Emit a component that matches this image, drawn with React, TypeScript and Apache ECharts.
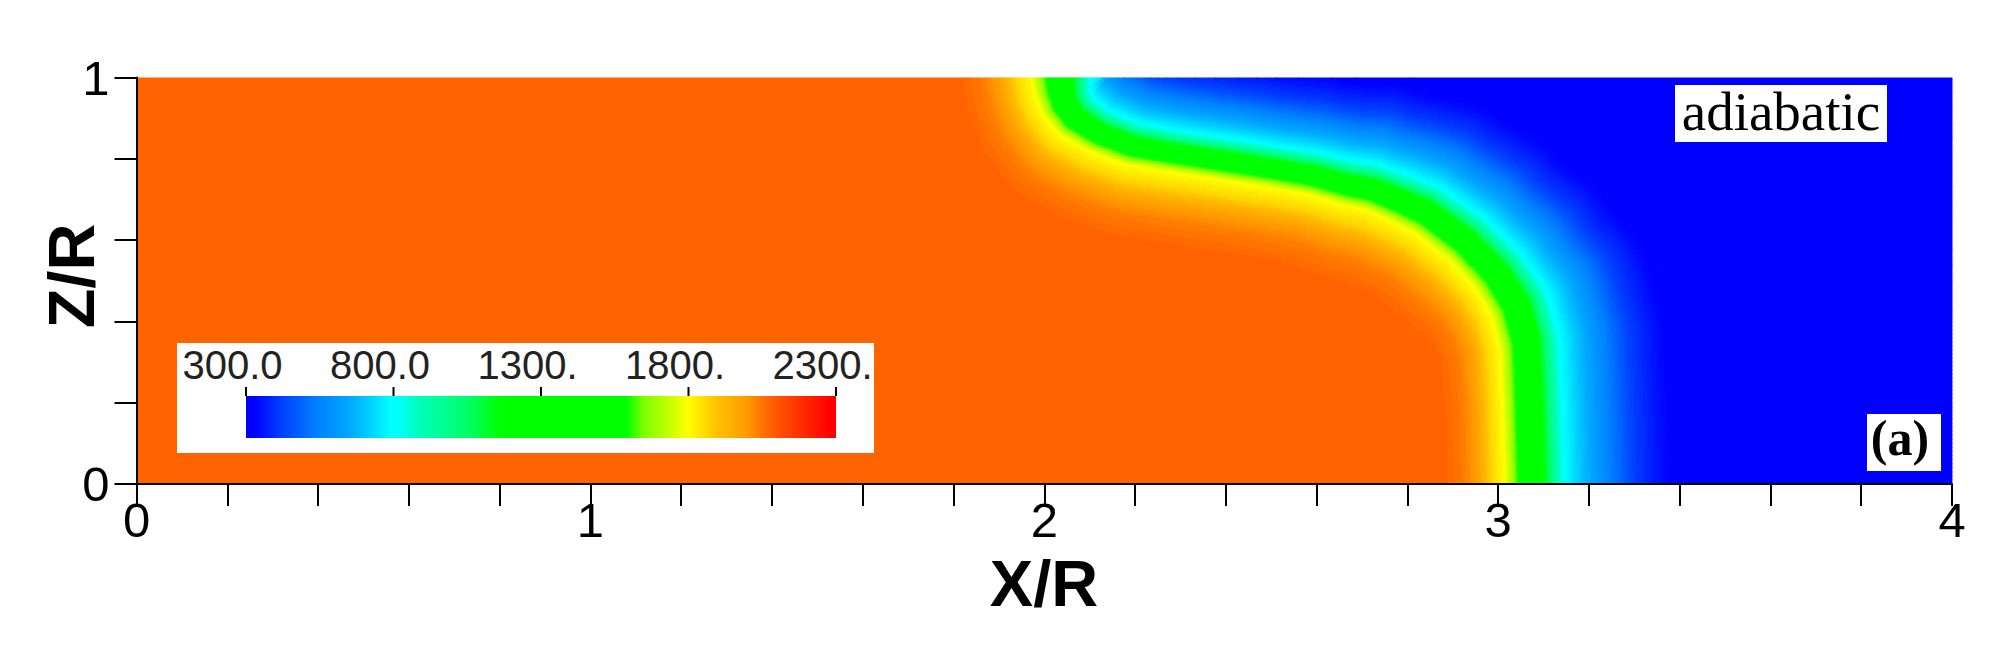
import React, { useEffect, useRef } from 'react';
import * as echarts from 'echarts';

// ---- axis tick labels ----
const xTickLabels = ['0', '1', '2', '3', '4'];
const zTickLabels = ['0', '1'];

// ---- flame front (T = 1800 contour) ----
const frontX = [1.972, 1.98, 1.998, 2.035, 2.101, 2.182, 2.27, 2.344, 2.416, 2.504, 2.586, 2.659, 2.711, 2.76, 2.815, 2.894, 2.953, 2.986, 3.004, 3.01, 3.015];
const frontZ = [1.0, 0.958, 0.909, 0.86, 0.819, 0.786, 0.77, 0.757, 0.745, 0.729, 0.712, 0.688, 0.675, 0.65, 0.62, 0.552, 0.478, 0.413, 0.339, 0.2, 0.0];
// relative thickness of the hot-side and cold-side transition along the front
const frontWHot = [1.2, 1.2, 1.2, 1.25, 1.25, 1.25, 1.25, 1.25, 1.25, 1.25, 1.25, 1.3, 1.3, 1.3, 1.3, 1.3, 1.2, 1.15, 1.05, 1.0, 1.0];
const frontWCold = [1.08, 1.0, 0.9, 0.82, 0.75, 0.72, 0.7, 0.7, 0.7, 0.7, 0.72, 0.75, 0.78, 0.82, 0.86, 0.9, 0.95, 1.0, 1.0, 1.0, 1.0];

// ---- temperature across the front (distance in X/R units, + = cold side) ----
const profileD = [-0.125, -0.088, -0.057, -0.029, 0, 0.015, 0.031, 0.088, 0.104, 0.132, 0.17, 0.214, 0.286, 0.361, 0.397];
const profileT = [2070, 2040, 1980, 1870, 1800, 1710, 1590, 1165, 1000, 800, 700, 590, 420, 330, 300];

// ---- colour map (legend) ----
const cmapT = [300, 330, 420, 540, 650, 720, 790, 810, 880, 970, 1060, 1165, 1590, 1650, 1710, 1800, 1900, 2000, 2070, 2170, 2280, 2300];
const cmapColor = ['#0000ff', '#0000ff', '#0040ff', '#0080ff', '#00a8ff', '#00d0ff', '#00ffff', '#00ffff', '#00ffc0', '#00ff90', '#00ff60', '#00ff00', '#00ff00', '#80ff00', '#b0ff00', '#ffff00', '#ffc000', '#ff9900', '#ff6600', '#ff3300', '#ff0000', '#ff0000'];
const barTicks = [300, 800, 1300, 1800, 2300];
const barLabels = ['300.0', '800.0', '1300.', '1800.', '2300.'];

const T_MIN = 300;
const T_MAX = 2300;

function interp(xs: number[], ys: number[], v: number): number {
  if (v <= xs[0]) return ys[0];
  const n = xs.length;
  if (v >= xs[n - 1]) return ys[n - 1];
  for (let i = 0; i < n - 1; i++) {
    if (v >= xs[i] && v <= xs[i + 1]) {
      const t = (v - xs[i]) / (xs[i + 1] - xs[i]);
      return ys[i] + t * (ys[i + 1] - ys[i]);
    }
  }
  return ys[n - 1];
}

function hexToRgb(h: string) {
  return [parseInt(h.slice(1, 3), 16), parseInt(h.slice(3, 5), 16), parseInt(h.slice(5, 7), 16)];
}
function rgbToHex(c: number[]) {
  return '#' + c.map((v) => Math.max(0, Math.min(255, Math.round(v))).toString(16).padStart(2, '0')).join('');
}
function cmapAt(T: number): string {
  const rgb = cmapColor.map(hexToRgb);
  const ch = [0, 1, 2].map((k) => interp(cmapT, rgb.map((c) => c[k]), T));
  return rgbToHex(ch);
}

const PLOT_ASPECT = 406.5 / 454; // pixel height of one Z/R unit over pixel width of one X/R unit
const frontZRev = frontZ.slice().reverse();
const frontXRev = frontX.slice().reverse();

function fieldT(x: number, z: number): number {
  const Y = z * PLOT_ASPECT;
  let best = Infinity;
  let bi = 0;
  let bt = 0;
  for (let i = 0; i < frontX.length - 1; i++) {
    const ax = frontX[i], ay = frontZ[i] * PLOT_ASPECT;
    const bx = frontX[i + 1], by = frontZ[i + 1] * PLOT_ASPECT;
    const dx = bx - ax, dy = by - ay;
    const len2 = dx * dx + dy * dy;
    let t = ((x - ax) * dx + (Y - ay) * dy) / len2;
    t = Math.max(0, Math.min(1, t));
    const px = ax + t * dx, py = ay + t * dy;
    const d2 = (x - px) * (x - px) + (Y - py) * (Y - py);
    if (d2 < best) { best = d2; bi = i; bt = t; }
  }
  const xf = interp(frontZRev, frontXRev, z);
  const hot = x < xf;
  const w = hot
    ? frontWHot[bi] + bt * (frontWHot[bi + 1] - frontWHot[bi])
    : frontWCold[bi] + bt * (frontWCold[bi + 1] - frontWCold[bi]);
  const d = (Math.sqrt(best) * (hot ? -1 : 1)) / w;
  return interp(profileD, profileT, d);
}

// ---- build field cells (runs of equal quantised temperature) ----
function buildCells() {
  const rows: number[] = [];
  for (let i = 0; i <= 40; i++) rows.push(i * 0.01);
  for (let i = 1; i <= 120; i++) rows.push(0.4 + i * 0.005);
  const NX = 1000;
  const DX = 4 / NX;
  const Q = 12;
  const cells: number[][] = [];
  for (let r = 0; r < rows.length - 1; r++) {
    const z0 = rows[r], z1 = rows[r + 1];
    const zc = (z0 + z1) / 2;
    let runStart = 0;
    let runT = NaN;
    for (let i = 0; i < NX; i++) {
      const xc = (i + 0.5) * DX;
      const T = Math.round(fieldT(xc, zc) / Q) * Q;
      if (isNaN(runT)) { runT = T; runStart = 0; }
      else if (T !== runT) {
        cells.push([runStart, i * DX, z0, z1, runT]);
        runStart = i * DX;
        runT = T;
      }
    }
    cells.push([runStart, 4, z0, z1, runT]);
  }
  return cells;
}

export default function App() {
  const ref = useRef<HTMLDivElement>(null);

  useEffect(() => {
    if (!ref.current) return;
    const chart = echarts.init(ref.current, undefined, { renderer: 'svg' });
    const cells = buildCells();

    const vmColors: string[] = [];
    for (let k = 0; k <= 80; k++) vmColors.push(cmapAt(T_MIN + (k * (T_MAX - T_MIN)) / 80));

    const gridLeft = 136.5;
    const gridTop = 77.5;
    const gridWidth = 1815.5;
    const gridHeight = 406.5;

    // colour bar geometry
    const boxX = 177, boxY = 343, boxW = 697, boxH = 110;
    const barX = 246, barY = 396, barW = 590, barH = 42;
    const tickX = (T: number) => barX + ((T - T_MIN) / (T_MAX - T_MIN)) * barW;

    const graphics: any[] = [
      { type: 'rect', z: 100, shape: { x: boxX, y: boxY, width: boxW, height: boxH }, style: { fill: '#ffffff' } },
      {
        type: 'rect', z: 101, shape: { x: barX, y: barY, width: barW, height: barH },
        style: {
          fill: {
            type: 'linear', x: 0, y: 0, x2: 1, y2: 0,
            colorStops: cmapT.map((T, i) => ({ offset: (T - T_MIN) / (T_MAX - T_MIN), color: cmapColor[i] })),
          },
        },
      },
      ...barTicks.map((T) => ({
        type: 'line', z: 101,
        shape: { x1: tickX(T), y1: 387, x2: tickX(T), y2: barY },
        style: { stroke: '#000', lineWidth: 2 },
      })),
      ...barTicks.map((T, i) => ({
        type: 'text', z: 101, x: tickX(T) - 13.5, y: 364.5,
        style: { text: barLabels[i], fontSize: 40, lineHeight: 36, fontFamily: 'Liberation Sans', fill: '#222', align: 'center', verticalAlign: 'middle' },
      })),
      { type: 'rect', z: 100, shape: { x: 1675, y: 85, width: 212, height: 57 }, style: { fill: '#ffffff' } },
      {
        type: 'text', z: 101, x: 1781, y: 111.5,
        style: { text: 'adiabatic', fontSize: 55, lineHeight: 50, fontFamily: 'Liberation Serif', fill: '#000', align: 'center', verticalAlign: 'middle' },
      },
      { type: 'rect', z: 100, shape: { x: 1867, y: 414, width: 74, height: 57 }, style: { fill: '#ffffff' } },
      {
        type: 'text', z: 101, x: 1900, y: 437.6,
        style: { text: '(a)', fontSize: 50, lineHeight: 48, fontWeight: 'bold', fontFamily: 'Liberation Serif', fill: '#000', align: 'center', verticalAlign: 'middle' },
      },
      {
        type: 'text', z: 101, x: 71, y: 276, rotation: Math.PI / 2,
        style: { text: 'Z/R', fontSize: 65, lineHeight: 50, fontWeight: 'bold', fontFamily: 'Liberation Sans', fill: '#000', align: 'center', verticalAlign: 'middle' },
      },
      {
        type: 'text', z: 101, x: 1044, y: 583,
        style: { text: 'X/R', fontSize: 65, lineHeight: 50, fontWeight: 'bold', fontFamily: 'Liberation Sans', fill: '#000', align: 'center', verticalAlign: 'middle' },
      },
    ];

    const isNear = (v: number, t: number) => Math.abs(v - t) < 1e-6;

    chart.setOption({
      animation: false,
      progressive: 0,
      progressiveThreshold: 100000000,
      backgroundColor: '#ffffff',
      grid: { left: gridLeft, top: gridTop, width: gridWidth, height: gridHeight, containLabel: false },
      xAxis: {
        type: 'value', min: 0, max: 4, interval: 0.2, z: 10,
        axisLine: { show: true, onZero: false, lineStyle: { color: '#000', width: 2 } },
        axisTick: { show: true, length: 22, lineStyle: { color: '#000', width: 2 } },
        splitLine: { show: false },
        axisLabel: {
          show: true, margin: 16, fontSize: 49, lineHeight: 40, fontFamily: 'Liberation Sans', color: '#000',
          showMinLabel: true, showMaxLabel: true,
          formatter: (v: number) => (isNear(v, Math.round(v)) ? xTickLabels[Math.round(v)] ?? '' : ''),
        },
      },
      yAxis: {
        type: 'value', min: 0, max: 1, interval: 0.2, z: 10,
        axisLine: { show: true, onZero: false, lineStyle: { color: '#000', width: 2 } },
        axisTick: { show: true, length: 22, lineStyle: { color: '#000', width: 2 } },
        splitLine: { show: false },
        axisLabel: {
          show: true, margin: 27, fontSize: 49, lineHeight: 40, fontFamily: 'Liberation Sans', color: '#000',
          showMinLabel: true, showMaxLabel: true,
          formatter: (v: number) => (isNear(v, 0) ? zTickLabels[0] : isNear(v, 1) ? zTickLabels[1] : ''),
        },
      },
      visualMap: {
        type: 'continuous', show: false, min: T_MIN, max: T_MAX, dimension: 4, seriesIndex: 0,
        inRange: { color: vmColors },
      },
      series: [
        {
          type: 'custom',
          silent: true,
          clip: true,
          progressive: 0,
          progressiveThreshold: 100000000,
          data: cells,
          encode: { x: [0, 1], y: [2, 3] },
          renderItem: (params: any, api: any) => {
            const a = api.coord([api.value(0), api.value(3)]);
            const b = api.coord([api.value(1), api.value(2)]);
            return {
              type: 'rect',
              shape: { x: a[0] - 0.4, y: a[1] - 0.4, width: b[0] - a[0] + 0.8, height: b[1] - a[1] + 0.8 },
              style: { fill: api.visual('color') },
            };
          },
        },
      ],
      graphic: graphics,
    });

    return () => chart.dispose();
  }, []);

  return (
    <div
      ref={ref}
      style={{ position: 'absolute', left: 0, top: 0, width: 2010, height: 650, background: '#ffffff' }}
    />
  );
}
